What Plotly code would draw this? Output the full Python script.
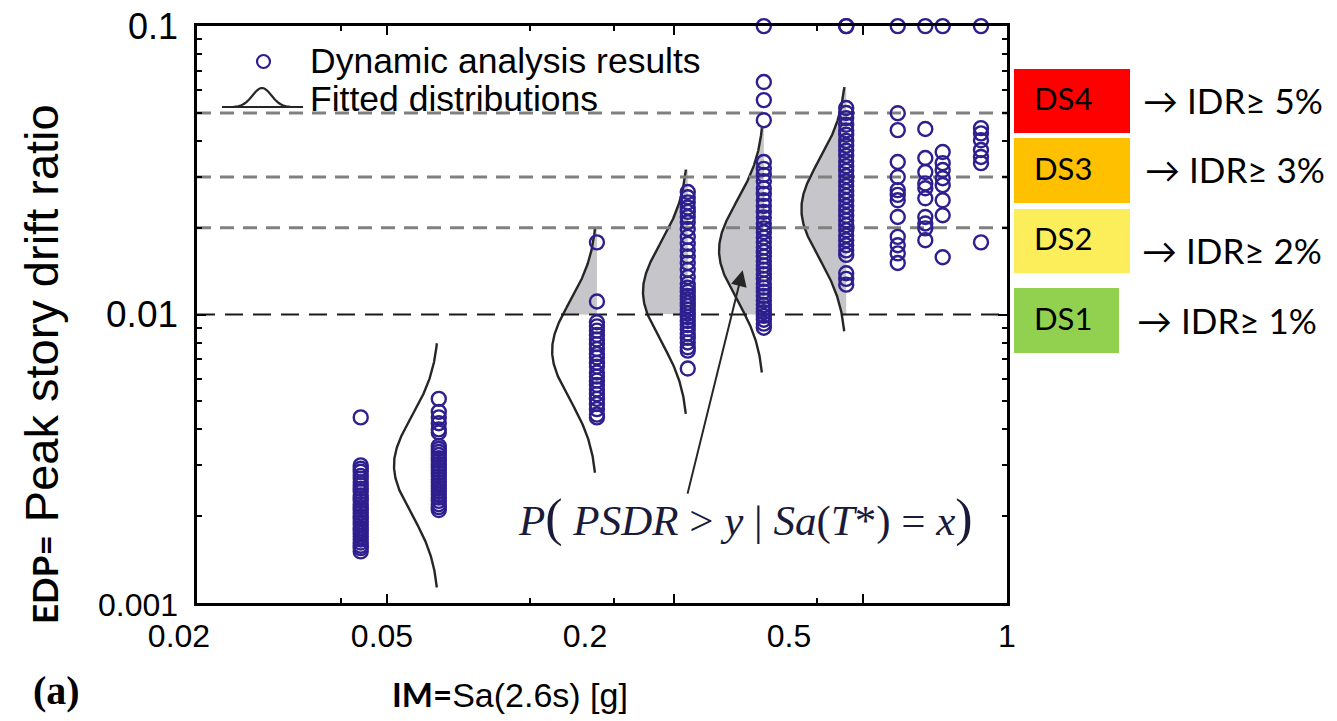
import numpy as np
import plotly.graph_objects as go

# ---------------- data ----------------
COL_X = [0.0441, 0.0643, 0.138, 0.214, 0.309, 0.460, 0.590, 0.674, 0.733, 0.882]
COL_Y = [
    [0.0044, 0.00300, 0.00292, 0.00285, 0.00276, 0.00270, 0.00262, 0.00256, 0.00249,
     0.00243, 0.00236, 0.00231, 0.00226, 0.00220, 0.00215, 0.00210, 0.00205, 0.00200,
     0.00196, 0.00191, 0.00187, 0.00182, 0.00178, 0.00174, 0.00170, 0.00166, 0.00162,
     0.00158, 0.00155, 0.00151],
    [0.0051, 0.0046, 0.0044, 0.0042, 0.0040, 0.0039, 0.0035, 0.00342, 0.00334, 0.00326,
     0.00318, 0.00311, 0.00303, 0.00296, 0.00289, 0.00282, 0.00275, 0.00268, 0.00262,
     0.00256, 0.00250, 0.00244, 0.00238, 0.00232, 0.00226, 0.00220, 0.00215, 0.00210],
    [0.0178, 0.0111, 0.0094, 0.0091, 0.0088, 0.0085, 0.0082, 0.0079, 0.0076, 0.0073,
     0.0071, 0.0068, 0.0066, 0.0063, 0.0061, 0.0059, 0.0057, 0.0055, 0.0053, 0.0051,
     0.0049, 0.0047, 0.0045, 0.0044],
    [0.0266, 0.0255, 0.0245, 0.0235, 0.0227, 0.0218, 0.0209, 0.0198, 0.0186, 0.0176,
     0.0167, 0.0159, 0.0151, 0.0143, 0.0135, 0.0128, 0.0124, 0.0120, 0.0116, 0.0113,
     0.0110, 0.0107, 0.0104, 0.0101, 0.0098, 0.0095, 0.0092, 0.0089, 0.0086, 0.0083,
     0.0080, 0.0077, 0.0075, 0.0065],
    [0.1, 0.0640, 0.0554, 0.0472, 0.0338, 0.0320, 0.0305, 0.0290, 0.0274, 0.0262,
     0.0249, 0.0238, 0.0227, 0.0217, 0.0207, 0.0199, 0.0193, 0.0185, 0.0178, 0.0171,
     0.0165, 0.0159, 0.0153, 0.0148, 0.0143, 0.0138, 0.0133, 0.0128, 0.0124, 0.0120,
     0.0116, 0.0112, 0.0108, 0.0105, 0.0102, 0.0099, 0.0096, 0.0093, 0.0090],
    [0.1, 0.1, 0.0520, 0.0500, 0.0480, 0.0455, 0.0435, 0.0420, 0.0400, 0.0385, 0.0370,
     0.0355, 0.0340, 0.0327, 0.0315, 0.0302, 0.0290, 0.0279, 0.0268, 0.0258, 0.0248,
     0.0238, 0.0229, 0.0220, 0.0212, 0.0204, 0.0196, 0.0188, 0.0181, 0.0174, 0.0167,
     0.0161, 0.0139, 0.0133, 0.0127],
    [0.1, 0.0499, 0.0436, 0.0338, 0.0300, 0.0270, 0.0260, 0.0249, 0.0218, 0.0186,
     0.0174, 0.0163, 0.0151],
    [0.1, 0.0440, 0.0349, 0.0312, 0.0285, 0.0274, 0.0253, 0.0218, 0.0207, 0.0199,
     0.0181],
    [0.1, 0.0366, 0.0335, 0.0317, 0.0297, 0.0281, 0.0249, 0.0221, 0.0158],
    [0.1, 0.0443, 0.0425, 0.0402, 0.0372, 0.0352, 0.0335, 0.0178],
]

# fitted lognormal distributions (baseline Sa, median PSDR, dispersion beta in ln units)
FIT_X = [0.0643, 0.138, 0.214, 0.309, 0.460]
FIT_MEDIAN = [0.0030, 0.0075, 0.0120, 0.0167, 0.0232]
FIT_BETA = [0.39, 0.39, 0.39, 0.39, 0.39]
FILL_THRESHOLD = 0.01

DS_LEVELS = [0.05, 0.03, 0.02, 0.01]
DS_NAMES = ["DS4", "DS3", "DS2", "DS1"]
DS_TEXT = ["\u2192 IDR\u2265 5%", "\u2192 IDR\u2265 3%", "\u2192 IDR\u2265 2%", "\u2192 IDR\u2265 1%"]
DS_COLORS = ["#ff0000", "#ffc000", "#fcee5a", "#92d050"]

X_TICK_LABELS = ["0.02", "0.05", "0.2", "0.5", "1"]
X_MAJOR = [0.05, 0.2, 0.5]
X_MINOR = [0.04, 0.1, 0.15, 0.4]
Y_TICKS = [0.001, 0.01, 0.1]
Y_TICK_LABELS = ["0.001", "0.01", "0.1"]
Y_TICK_SIZES = [32, 37, 36]
Y_MINOR = [0.002, 0.003, 0.004, 0.005, 0.006, 0.007, 0.008, 0.009,
           0.02, 0.03, 0.04, 0.05, 0.06, 0.07, 0.08, 0.09]

# ---------------- layout geometry (pixels) ----------------
W, H = 1337, 721
L, R, T, B = 197, 1007, 26, 603
LABEL_PX = [179, 382, 585, 789, 1007]   # where the x tick labels sit
def px_x(p):
    return p / W
def px_y(p):
    return 1 - p / H

MARK = "#2e1f8f"
CURVE_AMP_DEC = 0.094   # horizontal size of pdf glyph in decades of Sa
TRUNC = 2.5

fig = go.Figure()

# fitted distributions
for bx, med, beta in zip(FIT_X, FIT_MEDIAN, FIT_BETA):
    s10 = beta / np.log(10)
    z = np.linspace(-TRUNC, TRUNC, 301)
    ly = np.log10(med) + z * s10
    lx = np.log10(bx) - CURVE_AMP_DEC * np.exp(-z ** 2 / 2)
    cx, cy = 10 ** lx, 10 ** ly
    lt = np.log10(FILL_THRESHOLD)
    if ly[-1] > lt:
        zt = (lt - np.log10(med)) / s10
        zz = np.linspace(max(zt, -TRUNC), TRUNC, 200)
        fy = 10 ** (np.log10(med) + zz * s10)
        fx = 10 ** (np.log10(bx) - CURVE_AMP_DEC * np.exp(-zz ** 2 / 2))
        px_ = [bx] + list(fx) + [bx, bx]
        py_ = [fy[0]] + list(fy) + [fy[-1], fy[0]]
        fig.add_trace(go.Scatter(x=px_, y=py_, fill="toself", fillcolor="#c6c6ca",
                                 line=dict(width=0), mode="lines", hoverinfo="skip",
                                 showlegend=False))
    fig.add_trace(go.Scatter(x=cx, y=cy, mode="lines",
                             line=dict(color="#262626", width=2.4),
                             showlegend=False, hoverinfo="skip"))

# damage state thresholds
for lev in DS_LEVELS:
    black = lev == 0.01
    fig.add_trace(go.Scatter(x=[0.02, 1.0], y=[lev, lev], mode="lines",
                             line=dict(color="#1a1a1a" if black else "#808080",
                                       width=2 if black else 3,
                                       dash="18px,10px" if black else "14px,9px"),
                             showlegend=False, hoverinfo="skip"))

# dynamic analysis results
for xv, ys in zip(COL_X, COL_Y):
    fig.add_trace(go.Scatter(x=[xv] * len(ys), y=ys, mode="markers",
                             marker=dict(symbol="circle-open", size=14,
                                         line=dict(width=2.4, color=MARK), color=MARK),
                             cliponaxis=False, showlegend=False))

# label axis helper trace
fig.add_trace(go.Scatter(x=[None], y=[None], xaxis="x2", showlegend=False))

lab_span = LABEL_PX[-1] - LABEL_PX[0]
fig.update_layout(
    width=W, height=H,
    margin=dict(l=0, r=0, t=0, b=0, pad=0, autoexpand=False),
    paper_bgcolor="white", plot_bgcolor="rgba(0,0,0,0)",
    font=dict(family="Liberation Sans, Arial, sans-serif", color="black"),
    xaxis=dict(type="log", range=[np.log10(0.02), 0], domain=[L / W, R / W],
               anchor="y", tickvals=X_MAJOR, automargin=False,
               showticklabels=False, ticks="inside", ticklen=9, tickwidth=1.5,
               tickcolor="black",
               minor=dict(tickvals=X_MINOR, ticks="inside", ticklen=5, tickwidth=1.5,
                          tickcolor="black", showgrid=False),
               showline=True, linecolor="black", linewidth=2.5, mirror="ticks",
               showgrid=False, zeroline=False),
    xaxis2=dict(anchor="y", side="bottom", range=[0, 1], automargin=False,
                domain=[LABEL_PX[0] / W, LABEL_PX[-1] / W],
                tickvals=[(p - LABEL_PX[0]) / lab_span for p in LABEL_PX],
                ticktext=X_TICK_LABELS, ticks="", showline=False, showgrid=False,
                zeroline=False, tickfont=dict(size=32, family="Liberation Sans"),
                ticklabelstandoff=11),
    yaxis=dict(type="log", range=[-3, -0.9995], domain=[1 - B / H, 1 - T / H],
               anchor="x", tickvals=Y_TICKS, automargin=False,
               ticktext=["<span style='font-size:%dpx'>%s</span>" % (s, t)
                         for s, t in zip(Y_TICK_SIZES, Y_TICK_LABELS)],
               ticks="inside", ticklen=9, tickwidth=1.5, tickcolor="black",
               minor=dict(tickvals=Y_MINOR, ticks="inside", ticklen=5, tickwidth=1.5,
                          tickcolor="black", showgrid=False),
               showline=True, linecolor="black", linewidth=2.5, mirror="ticks",
               showgrid=False, zeroline=False,
               tickfont=dict(size=36, family="Liberation Sans"),
               ticklabelstandoff=9),
)

ann = []
shapes = []
# legend (manual, with pdf glyph)
ann.append(dict(xref="paper", yref="paper", x=px_x(308), y=px_y(61), xanchor="left",
                yanchor="middle", text="Dynamic analysis results", showarrow=False,
                font=dict(size=35.5, family="Liberation Sans")))
ann.append(dict(xref="paper", yref="paper", x=px_x(308), y=px_y(99), xanchor="left",
                yanchor="middle", text="Fitted distributions", showarrow=False,
                font=dict(size=35.5, family="Liberation Sans")))
shapes.append(dict(type="circle", xref="paper", yref="paper",
                   x0=px_x(257), x1=px_x(270), y0=px_y(68), y1=px_y(55),
                   line=dict(color=MARK, width=2.2)))
gx = np.linspace(-3, 3, 40)
gpath = "M {:.5f},{:.5f} ".format(px_x(222), px_y(107))
for g in gx:
    gpath += "L {:.5f},{:.5f} ".format(px_x(262 + g * 9.5), px_y(107 - 19 * np.exp(-g * g / 2)))
gpath += "L {:.5f},{:.5f} M {:.5f},{:.5f} L {:.5f},{:.5f}".format(
    px_x(303), px_y(107), px_x(222), px_y(107), px_x(303), px_y(107))
shapes.append(dict(type="path", xref="paper", yref="paper", path=gpath,
                   line=dict(color="#262626", width=2.2)))

# arrow and probability statement
ann.append(dict(x=np.log10(0.279), y=np.log10(0.01425), ax=np.log10(0.2134),
                ay=np.log10(0.002366), xref="x", yref="y", axref="x", ayref="y",
                text="", showarrow=True, arrowhead=2, arrowsize=1.6, arrowwidth=2,
                arrowcolor="#262626"))
ann.append(dict(xref="paper", yref="paper", x=px_x(745), y=px_y(518), xanchor="center",
                yanchor="middle", showarrow=False,
                text="<i>P</i><span style='font-size:52px'>(</span> <i>PSDR</i> &gt; <i>y</i>"
                     " | <i>Sa</i>(<i>T</i>*) = <i>x</i><span style='font-size:52px'>)</span>",
                font=dict(size=43, family="Liberation Serif", color="#1a1a3a")))

# axis titles
ann.append(dict(xref="paper", yref="paper", x=px_x(41), y=px_y(364), textangle=-90,
                showarrow=False, xanchor="center", yanchor="middle",
                text="<span style='font-family:Lato;font-weight:bold;font-size:35px'>EDP=</span>"
                     " Peak story drift ratio",
                font=dict(size=47, family="Liberation Sans")))
ann.append(dict(xref="paper", yref="paper", x=px_x(390), y=px_y(694), xanchor="left",
                yanchor="middle", showarrow=False,
                text="<span style='font-family:Lato;font-weight:bold;font-size:33px'>IM=</span>"
                     "Sa(2.6s) [g]",
                font=dict(size=34, family="Liberation Sans")))
ann.append(dict(xref="paper", yref="paper", x=px_x(56), y=px_y(690), xanchor="center",
                yanchor="middle", showarrow=False, text="<b>(a)</b>",
                font=dict(size=40, family="Liberation Serif")))

# damage state key
box_top = [69, 138, 209, 288]
box_bot = [133, 203, 273, 353]
box_right = [1130, 1130, 1130, 1119]
txt_y = [100, 169, 250, 320]
txt_x = [1141, 1143, 1140, 1135]
for i, name in enumerate(DS_NAMES):
    shapes.append(dict(type="rect", xref="paper", yref="paper", x0=px_x(1014),
                       x1=px_x(box_right[i]), y0=px_y(box_bot[i]), y1=px_y(box_top[i]),
                       fillcolor=DS_COLORS[i], line=dict(width=0), layer="above"))
    ann.append(dict(xref="paper", yref="paper", x=px_x(1063),
                    y=px_y((box_top[i] + box_bot[i]) / 2 - 3),
                    xanchor="center", yanchor="middle", showarrow=False, text=name,
                    font=dict(size=31, family="Lato", color="black")))
    ann.append(dict(xref="paper", yref="paper", x=px_x(txt_x[i]), y=px_y(txt_y[i]),
                    xanchor="left", yanchor="middle", showarrow=False, text=DS_TEXT[i],
                    font=dict(size=35, family="Lato", color="black")))

fig.update_layout(annotations=ann, shapes=shapes)
fig.write_html("out.html")
